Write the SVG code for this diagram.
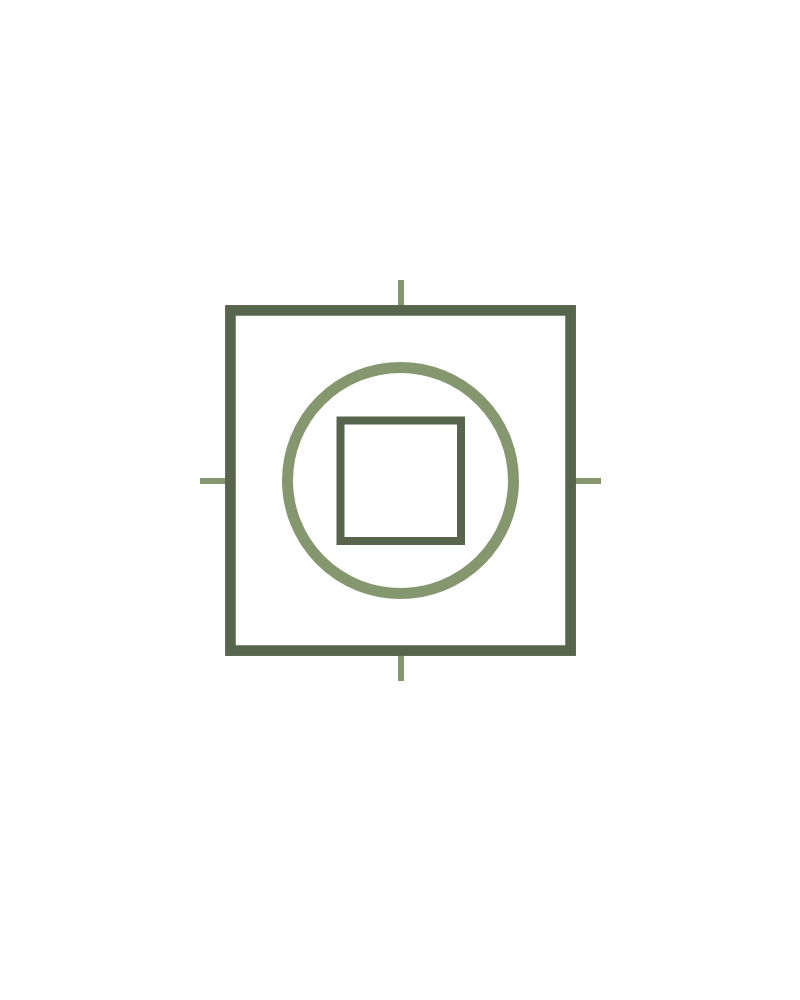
<svg xmlns="http://www.w3.org/2000/svg" width="800" height="1000" viewBox="0 0 800 1000">
  <style>
    .dark { fill: none; stroke: #58654d; }
    .light { fill: none; stroke: #84976f; }
  </style>
  <rect width="800" height="1000" fill="#ffffff"/>
  <g id="connectors">
    <line class="light" x1="401" y1="280" x2="401" y2="306" stroke-width="6"/>
    <line class="light" x1="401" y1="655" x2="401" y2="681" stroke-width="6"/>
    <line class="light" x1="200" y1="481" x2="226" y2="481" stroke-width="6"/>
    <line class="light" x1="575" y1="481" x2="601" y2="481" stroke-width="6"/>
  </g>
  <g id="outer-square">
    <rect class="dark" x="230.4" y="310.4" width="340.2" height="340.2" stroke-width="10.7"/>
  </g>
  <g id="circle">
    <circle class="light" cx="400.5" cy="480.5" r="113" stroke-width="11"/>
  </g>
  <g id="inner-square">
    <rect class="dark" x="340.5" y="420.5" width="120.5" height="120.5" stroke-width="8"/>
  </g>
</svg>
